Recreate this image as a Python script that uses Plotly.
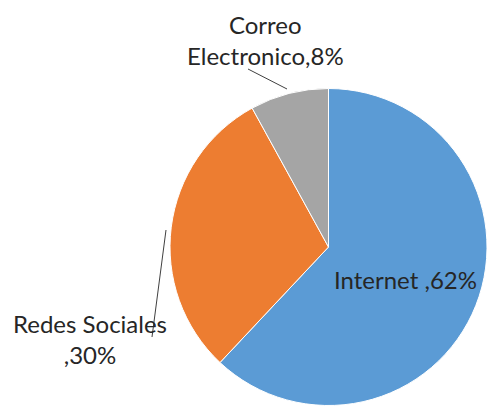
import plotly.graph_objects as go

# Medio de contacto y su participación
categorias = ["Internet", "Redes Sociales", "Correo Electronico"]
porcentajes = [62, 30, 8]
colores = ["#5B9BD5", "#ED7D31", "#A5A5A5"]

W, H = 487, 411
FONT = "Lato"
TXT = "#262626"


def px(x):
    return x / W


def py(y):
    return 1 - y / H


fig = go.Figure(
    go.Pie(
        labels=categorias,
        values=porcentajes,
        marker=dict(colors=colores, line=dict(color="#ffffff", width=1)),
        sort=False,
        direction="clockwise",
        rotation=0,
        textinfo="none",
        hoverinfo="label+percent",
        domain=dict(x=[px(170), 1.0], y=[py(406), py(88)]),
        showlegend=False,
    )
)

etiquetas = {
    "Internet": f"{categorias[0]} ,{porcentajes[0]}%",
    "Redes Sociales": f"{categorias[1]}<br>,{porcentajes[1]}%",
    "Correo Electronico": f"Correo<br>Electronico,{porcentajes[2]}%",
}

posiciones = {
    "Internet": (405, 279),
    "Redes Sociales": (90, 339),
    "Correo Electronico": (265, 40),
}

for cat in categorias:
    x, y = posiciones[cat]
    fig.add_annotation(
        x=px(x), y=py(y), xref="paper", yref="paper",
        text=etiquetas[cat], showarrow=False,
        xanchor="center", yanchor="middle", align="center",
        font=dict(family=FONT, size=24, color=TXT),
    )

# líneas guía de las etiquetas exteriores
guias = [((248, 69), (287, 89)), ((166, 230), (152, 337))]
for (x0, y0), (x1, y1) in guias:
    fig.add_shape(
        type="line", xref="paper", yref="paper",
        x0=px(x0), y0=py(y0), x1=px(x1), y1=py(y1),
        line=dict(color="#404040", width=1),
    )

fig.update_layout(
    width=W, height=H,
    margin=dict(l=0, r=0, t=0, b=0),
    paper_bgcolor="#ffffff",
    plot_bgcolor="#ffffff",
)

fig.write_html("out.html")
